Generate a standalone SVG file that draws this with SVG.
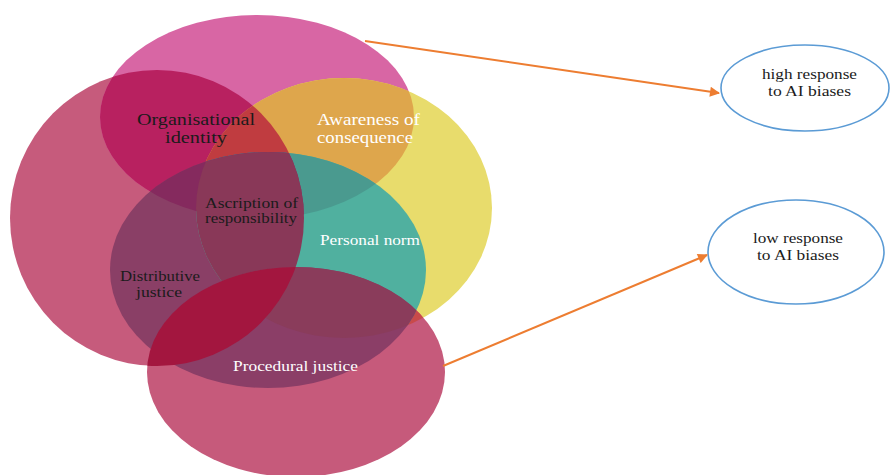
<svg xmlns="http://www.w3.org/2000/svg" xmlns:xlink="http://www.w3.org/1999/xlink" width="890" height="475" viewBox="0 0 890 475">
<style>
  .lbl { font-family: "Liberation Serif", "Times New Roman", serif; text-anchor: middle; }
  .dark { fill: #1b1b1b; }
  .light { fill: #ffffff; }
  .node { fill: #ffffff; stroke: #5b9bd5; stroke-width: 1.6; }
  .conn { stroke: #ed7d31; stroke-width: 2; fill: none; marker-end: url(#arrow); }
</style>
<defs>
  <ellipse id="eTop" cx="257" cy="117" rx="157" ry="102"/>
  <ellipse id="eLeft" cx="157" cy="218" rx="147" ry="148"/>
  <ellipse id="eYel" cx="344" cy="208" rx="148" ry="130"/>
  <ellipse id="eMid" cx="268" cy="270" rx="158" ry="118"/>
  <ellipse id="eBot" cx="296" cy="372" rx="149" ry="105"/>
  <clipPath id="cTop"><ellipse cx="257" cy="117" rx="157" ry="102"/></clipPath>
  <clipPath id="cLeft"><ellipse cx="157" cy="218" rx="147" ry="148"/></clipPath>
  <clipPath id="cYel"><ellipse cx="344" cy="208" rx="148" ry="130"/></clipPath>
  <clipPath id="cMid"><ellipse cx="268" cy="270" rx="158" ry="118"/></clipPath>
  <clipPath id="cBot"><ellipse cx="296" cy="372" rx="149" ry="105"/></clipPath>
  <marker id="arrow" viewBox="0 0 10 10" refX="9" refY="5" markerWidth="5.5" markerHeight="5" orient="auto" markerUnits="strokeWidth">
    <path d="M0,0 L10,5 L0,10 z" fill="#ed7d31"/>
  </marker>
</defs>

<g id="venn-shapes">
  <use xlink:href="#eLeft" fill="#c65b7c"/>
  <use xlink:href="#eTop" fill="#d866a4"/>
  <use xlink:href="#eYel" fill="#e8dc6c"/>
  <use xlink:href="#eBot" fill="#c65a7b"/>
  <g clip-path="url(#cTop)"><use xlink:href="#eLeft" fill="#b82160"/></g>
  <g clip-path="url(#cTop)"><use xlink:href="#eYel" fill="#dea64c"/></g>
  <g clip-path="url(#cTop)"><g clip-path="url(#cLeft)"><use xlink:href="#eYel" fill="#c03c40"/></g></g>
  <g clip-path="url(#cBot)"><use xlink:href="#eYel" fill="#c84a4a"/></g>
  <g clip-path="url(#cLeft)"><use xlink:href="#eMid" fill="#8a3f66"/></g>
  <g clip-path="url(#cYel)"><use xlink:href="#eMid" fill="#50b09f"/></g>
  <g clip-path="url(#cYel)"><g clip-path="url(#cTop)"><use xlink:href="#eMid" fill="#4a9a8f"/></g></g>
  <g clip-path="url(#cLeft)"><g clip-path="url(#cTop)"><use xlink:href="#eMid" fill="#852a5e"/></g></g>
  <g clip-path="url(#cLeft)"><g clip-path="url(#cYel)"><use xlink:href="#eMid" fill="#893858"/></g></g>
  <g clip-path="url(#cBot)"><use xlink:href="#eMid" fill="#8b3e67"/></g>
  <g clip-path="url(#cBot)"><g clip-path="url(#cYel)"><use xlink:href="#eMid" fill="#8a3c5b"/></g></g>
  <g clip-path="url(#cBot)"><use xlink:href="#eLeft" fill="#a3163f"/></g>
</g>

<g id="node-organisational-identity">
  <text class="lbl dark" font-size="17" x="196" y="125" textLength="118" lengthAdjust="spacingAndGlyphs">Organisational</text>
  <text class="lbl dark" font-size="17" x="196" y="143" textLength="62" lengthAdjust="spacingAndGlyphs">identity</text>
</g>
<g id="node-awareness-of-consequence">
  <text class="lbl light" font-size="16" x="368.5" y="125" textLength="103" lengthAdjust="spacingAndGlyphs">Awareness of</text>
  <text class="lbl light" font-size="16" x="365" y="143" textLength="96" lengthAdjust="spacingAndGlyphs">consequence</text>
</g>
<g id="node-ascription-of-responsibility">
  <text class="lbl dark" font-size="14" x="251.5" y="208" textLength="93" lengthAdjust="spacingAndGlyphs">Ascription of</text>
  <text class="lbl dark" font-size="14" x="251" y="223" textLength="92" lengthAdjust="spacingAndGlyphs">responsibility</text>
</g>
<g id="node-personal-norm">
  <text class="lbl light" font-size="15" x="370" y="245" textLength="100" lengthAdjust="spacingAndGlyphs">Personal norm</text>
</g>
<g id="node-distributive-justice">
  <text class="lbl dark" font-size="15" x="160" y="281" textLength="80" lengthAdjust="spacingAndGlyphs">Distributive</text>
  <text class="lbl dark" font-size="15" x="159" y="297" textLength="46" lengthAdjust="spacingAndGlyphs">justice</text>
</g>
<g id="node-procedural-justice">
  <text class="lbl light" font-size="15" x="295.5" y="371" textLength="125" lengthAdjust="spacingAndGlyphs">Procedural justice</text>
</g>

<g id="node-high-response">
  <ellipse class="node" cx="805" cy="88" rx="84" ry="43"/>
  <text class="lbl dark" font-size="15.5" x="809.5" y="79" textLength="95" lengthAdjust="spacingAndGlyphs">high response</text>
  <text class="lbl dark" font-size="15.5" x="809.5" y="96" textLength="83" lengthAdjust="spacingAndGlyphs">to AI biases</text>
</g>
<g id="node-low-response">
  <ellipse class="node" cx="796" cy="252" rx="88" ry="52"/>
  <text class="lbl dark" font-size="15.5" x="798" y="243" textLength="90" lengthAdjust="spacingAndGlyphs">low response</text>
  <text class="lbl dark" font-size="15.5" x="798" y="260" textLength="82" lengthAdjust="spacingAndGlyphs">to AI biases</text>
</g>

<g id="connectors">
  <line class="conn" x1="365" y1="41" x2="719" y2="93"/>
  <line class="conn" x1="443" y1="366" x2="707" y2="255"/>
</g>
</svg>
